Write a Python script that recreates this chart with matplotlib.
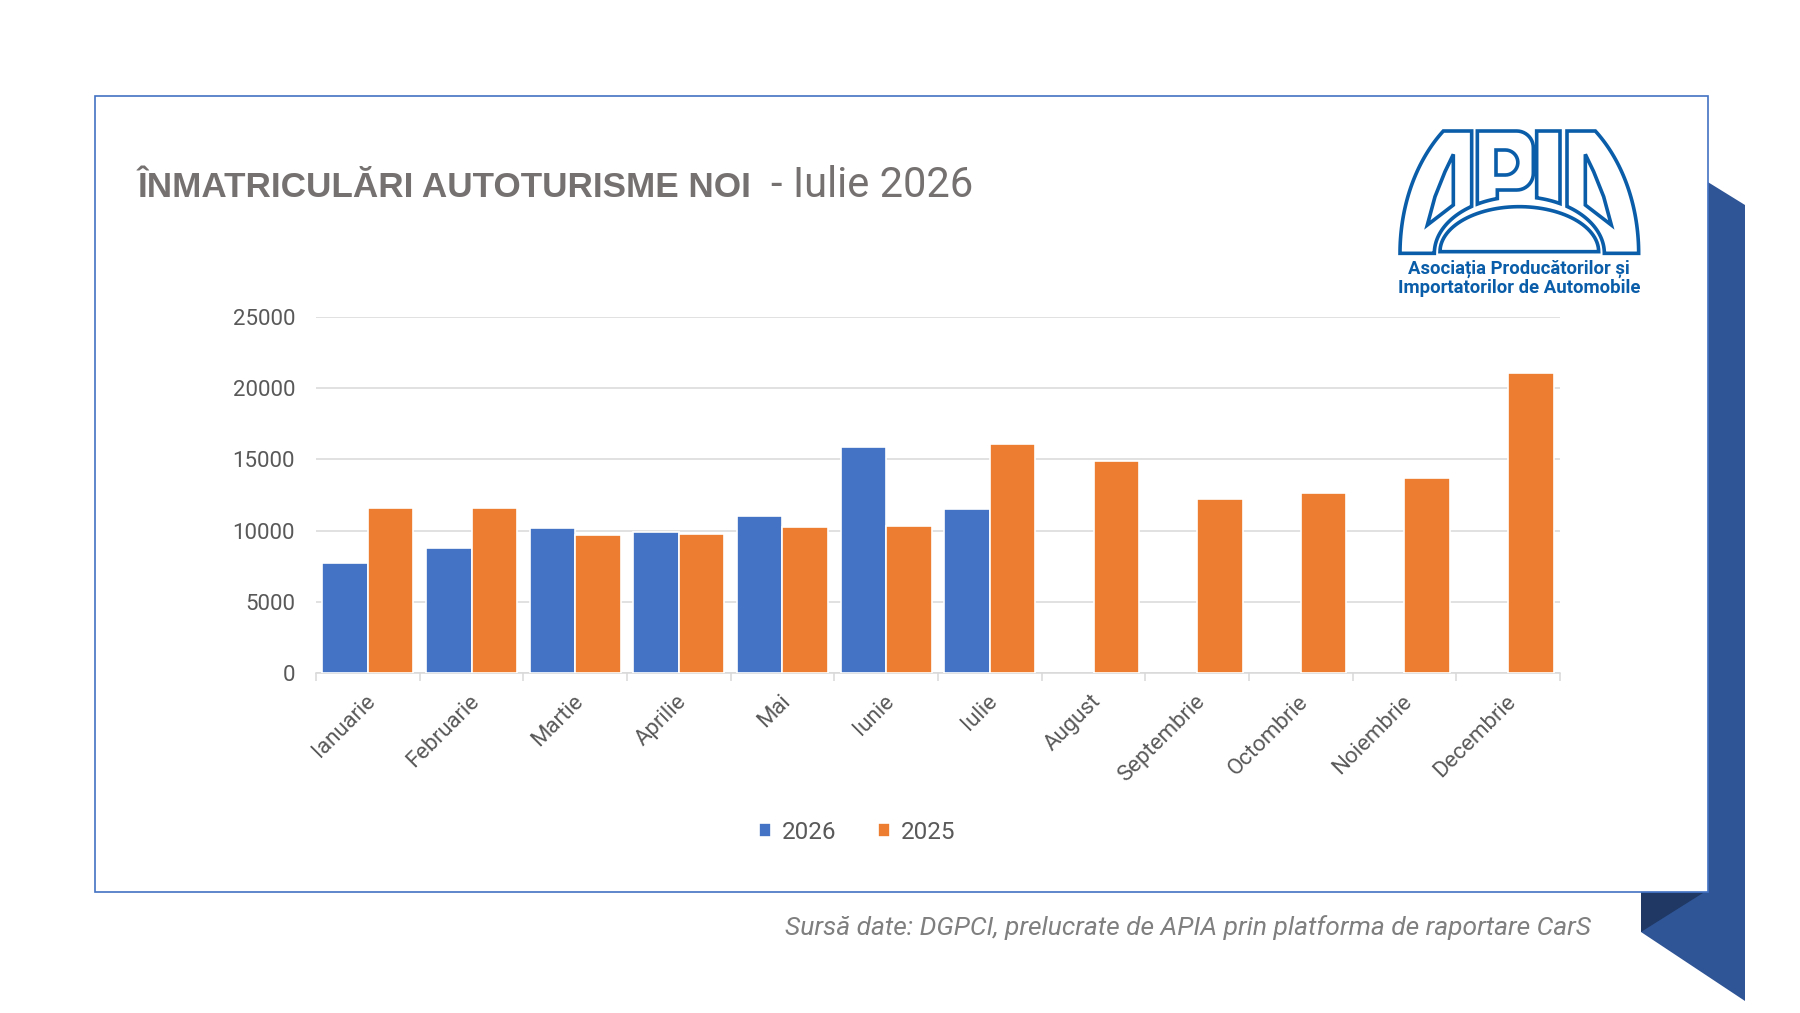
import matplotlib
matplotlib.use("Agg")
import matplotlib.pyplot as plt
import numpy as np
from matplotlib.patches import Polygon, Rectangle
from matplotlib.transforms import ScaledTranslation

W, H, DPI = 1800, 1013, 100

# ---- data ----
months = ["Ianuarie", "Februarie", "Martie", "Aprilie", "Mai", "Iunie", "Iulie",
          "August", "Septembrie", "Octombrie", "Noiembrie", "Decembrie"]
val_2026 = [7700, 8770, 10150, 9930, 11030, 15860, 11520]
val_2025 = [11620, 11620, 9660, 9750, 10230, 10330, 16050,
            14880, 12200, 12620, 13690, 21100]
y_ticks = [0, 5000, 10000, 15000, 20000, 25000]

title_bold = "ÎNMATRICULĂRI AUTOTURISME NOI"
title_rest = "- Iulie 2026"
source = "Sursă date: DGPCI, prelucrate de APIA prin platforma de raportare CarS"
logo_lines = ["Asociația Producătorilor și", "Importatorilor de Automobile"]

C_2026 = "#4472C4"
C_2025 = "#ED7D31"
C_GRID = "#D9D9D9"
C_TXT = "#595959"
C_TITLE = "#767171"
C_LOGO = "#0A5DA8"
C_FRAME = "#4472C4"
C_RIBBON = "#2F5597"
C_RIBBON_DARK = "#1F3864"

plt.rcParams["font.family"] = ["Roboto", "DejaVu Sans"]

fig = plt.figure(figsize=(W / DPI, H / DPI), dpi=DPI)


def px_axes(x0, y0, x1, y1):
    # axes from a pixel box, origin top-left
    return fig.add_axes([x0 / W, 1 - y1 / H, (x1 - x0) / W, (y1 - y0) / H])


# ---- background: card + ribbon ----
bg = px_axes(0, 0, W, H)
bg.set_xlim(0, W)
bg.set_ylim(H, 0)
bg.axis("off")
bg.add_patch(Polygon([(1690, 171), (1745, 205), (1745, 1001), (1641, 932),
                      (1641, 880), (1690, 880)], closed=True,
                     facecolor=C_RIBBON, edgecolor="none", zorder=1))
bg.add_patch(Rectangle((95, 96), 1613, 796, facecolor="white",
                       edgecolor=C_FRAME, lw=1.2, zorder=2))
bg.add_patch(Polygon([(1641, 893), (1703, 893), (1641, 932)], closed=True,
                     facecolor=C_RIBBON_DARK, edgecolor="none", zorder=3))

t1 = bg.text(137, 197, title_bold, fontsize=25.3, fontweight="bold",
             family=["Liberation Sans", "DejaVu Sans"],
             color=C_TITLE, ha="left", va="baseline", zorder=5)
bb = t1.get_window_extent(fig.canvas.get_renderer())
bg.text(bb.x1 + 20, 197, title_rest, fontsize=30, color=C_TITLE,
        ha="left", va="baseline", zorder=5)
bg.text(1591, 935, source, fontsize=19, style="italic", color="#7F7F7F",
        ha="right", va="baseline", zorder=5)

# ---- chart ----
ax = px_axes(316, 317, 1560, 673)
ax.set_zorder(bg.get_zorder() + 1)
ax.patch.set_visible(False)

x = np.arange(len(months))
bw = 0.44
ax.bar(x[:len(val_2026)] - bw / 2, val_2026, bw, color=C_2026,
       edgecolor="white", lw=1.2, label="2026", zorder=3)
ax.bar(x + bw / 2, val_2025, bw, color=C_2025,
       edgecolor="white", lw=1.2, label="2025", zorder=3)

ax.set_xlim(-0.5, len(months) - 0.5)
ax.set_ylim(0, 25000)
ax.set_yticks(y_ticks)
ax.yaxis.grid(True, color=C_GRID, lw=1.1)
ax.set_axisbelow(True)
for s in ("top", "right", "left"):
    ax.spines[s].set_visible(False)
ax.spines["bottom"].set_color(C_GRID)
ax.spines["bottom"].set_linewidth(1.1)
ax.tick_params(axis="y", length=0, pad=15, labelsize=16, labelcolor=C_TXT)

ax.set_xticks(x)
ax.set_xticklabels(months, rotation=45, ha="right", rotation_mode="anchor")
ax.tick_params(axis="x", which="major", length=0, pad=13, labelsize=16,
               labelcolor=C_TXT)
ax.set_xticks(np.arange(-0.5, len(months), 1), minor=True)
ax.tick_params(axis="x", which="minor", length=6, width=1.1, color=C_GRID)
for lbl in ax.get_xticklabels():
    lbl.set_transform(lbl.get_transform()
                      + ScaledTranslation(-2 / 72, 0, fig.dpi_scale_trans))

ax.legend(loc="center", bbox_to_anchor=(857 / W, 1 - 832 / H),
          bbox_transform=fig.transFigure, ncol=2, frameon=False, fontsize=17.5,
          handlelength=0.5, handleheight=0.5, handletextpad=0.45,
          columnspacing=1.7, labelcolor=C_TXT)

# ---- APIA logo (outline drawing) ----
lg = px_axes(1390, 125, 1650, 300)
lg.set_xlim(0, 780)
lg.set_ylim(525, 0)
lg.axis("off")
lg.set_zorder(ax.get_zorder() + 1)

cx, base = 388, 385


def arc(rx, ry, th0, th1, ox=cx, oy=base, n=40):
    th = np.radians(np.linspace(th0, th1, n))
    return list(zip(ox + rx * np.cos(th), oy - ry * np.sin(th)))


def th_at(xv, rx):
    return np.degrees(np.arccos((xv - cx) / rx))


LR, LRY = 255, 170          # bottom curve of the letters
OR, ORY = 358, 476          # outer dome

left_a = (arc(OR, ORY, 180, th_at(160, OR)) + [(245, 18)]
          + arc(LR, LRY, th_at(245, LR), 180))
left_hole = [(190, 88), (190, 240), (112, 300), (135, 215), (165, 140)]
p_shape = ([(262, 18)] + arc(50, 50, 90, 0, 380, 68, 12)
           + arc(50, 50, 0, -90, 380, 145, 12) + [(322, 195)]
           + arc(LR, LRY, th_at(322, LR), th_at(262, LR), n=12))
p_hole = [(318, 75)] + arc(37.5, 37.5, 90, -90, 346, 112.5, 20) + [(318, 150)]
i_shape = ([(440, 18), (510, 18)]
           + arc(LR, LRY, th_at(510, LR), th_at(440, LR), n=12))
wheel = arc(238, 135, 180, 0, oy=380, n=60)


def mirror(pts):
    return [(2 * cx - px, py) for px, py in pts]


for shape in (left_a, mirror(left_a), p_shape, i_shape, wheel,
              left_hole, mirror(left_hole), p_hole):
    lg.add_patch(Polygon(shape, closed=True, facecolor="white",
                         edgecolor=C_LOGO, lw=2.6, joinstyle="miter"))

lg.text(cx, 432, logo_lines[0], ha="center", va="center", fontsize=13.3,
        fontweight="bold", color=C_LOGO)
lg.text(cx, 490, logo_lines[1], ha="center", va="center", fontsize=13.3,
        fontweight="bold", color=C_LOGO)

fig.savefig("out.png", dpi=DPI)
